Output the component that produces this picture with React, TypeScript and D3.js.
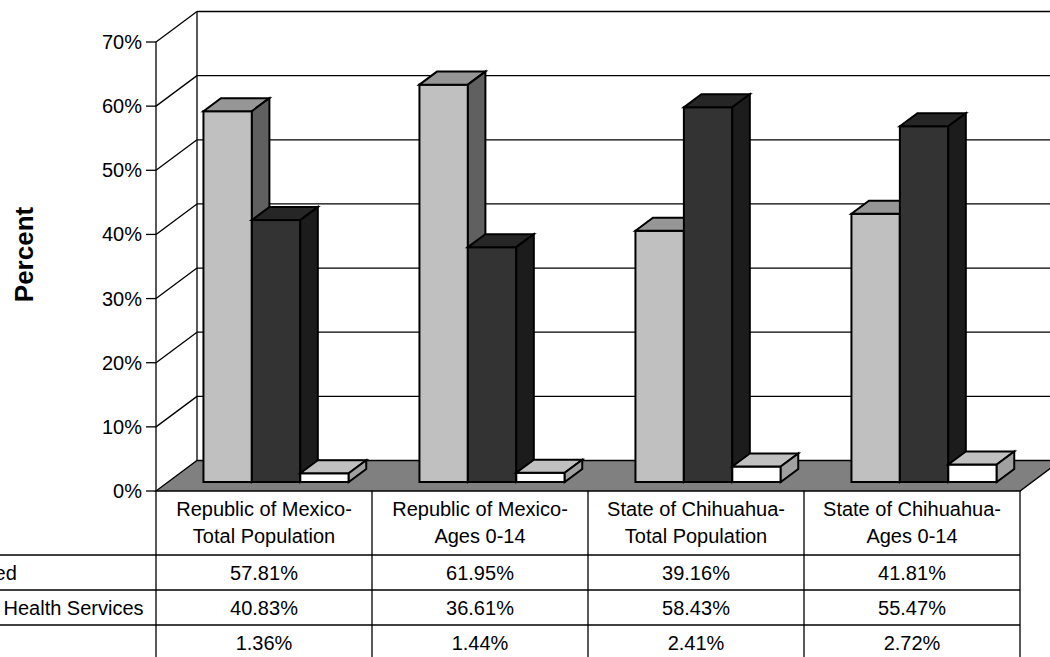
import React from "react";
import * as d3 from "d3";

const categories = [
  ["Republic of Mexico-", "Total Population"],
  ["Republic of Mexico-", "Ages 0-14"],
  ["State of Chihuahua-", "Total Population"],
  ["State of Chihuahua-", "Ages 0-14"],
];
const seriesNames = ["Non-entitled", "Entitled to Health Services", "Unknown"];
const notEntitled = [57.81, 61.95, 39.16, 41.81];
const entitled = [40.83, 36.61, 58.43, 55.47];
const unknown = [1.36, 1.44, 2.41, 2.72];
const seriesValues = [notEntitled, entitled, unknown];
const yTicks = [0, 10, 20, 30, 40, 50, 60, 70];

const W = 1050;
const H = 657;
const FONT = "'Liberation Sans', Arial, sans-serif";

// face colours: front, top, side
const faceColors = [
  ["#c0c0c0", "#969696", "#606060"],
  ["#333333", "#262626", "#1c1c1c"],
  ["#ffffff", "#c0c0c0", "#a0a0a0"],
];

export default function App() {
  const x0 = 156;
  const x1 = 1020;
  const yScale = d3.scaleLinear().domain([0, 70]).range([491, 42]);
  const DX = 41;
  const DY = -30.5;
  const xCat = d3
    .scaleBand<number>()
    .domain(categories.map((_, i) => i))
    .range([x0, x1])
    .padding(0);
  const xSer = d3
    .scaleBand<number>()
    .domain(seriesNames.map((_, i) => i))
    .range([0, xCat.bandwidth()])
    .paddingInner(0)
    .paddingOuter(0.73);
  const f0 = 0.295;
  const f1 = 0.722;

  const pt = (x: number, y: number) => `${x},${y}`;
  const y0 = yScale(0);

  const headerBottom = 555;
  const rowH = 35;

  const bars: React.ReactNode[] = [];
  categories.forEach((_, ci) => {
    seriesValues.forEach((vals, si) => {
      const v = vals[ci];
      const bx = (xCat(ci) as number) + (xSer(si) as number);
      const bw = xSer.bandwidth();
      const fx = bx + f0 * DX;
      const fyb = y0 + f0 * DY;
      const fyt = yScale(v) + f0 * DY;
      const ddx = (f1 - f0) * DX;
      const ddy = (f1 - f0) * DY;
      const [cf, ct, cs] = faceColors[si];
      bars.push(
        <g key={`b${ci}-${si}`} stroke="#000" strokeWidth={2} strokeLinejoin="miter">
          <rect x={fx} y={fyt} width={bw} height={fyb - fyt} fill={cf} />
          <polygon
            points={[pt(fx, fyt), pt(fx + ddx, fyt + ddy), pt(fx + bw + ddx, fyt + ddy), pt(fx + bw, fyt)].join(" ")}
            fill={ct}
          />
          <polygon
            points={[pt(fx + bw, fyt), pt(fx + bw + ddx, fyt + ddy), pt(fx + bw + ddx, fyb + ddy), pt(fx + bw, fyb)].join(" ")}
            fill={cs}
          />
        </g>
      );
    });
  });

  return (
    <svg
      width={W}
      height={H}
      style={{ position: "fixed", left: 0, top: 0, display: "block", background: "#fff" }}
      fontFamily={FONT}
    >
      {yTicks.filter((t) => t > 0).map((t) => (
        <g key={`g${t}`} stroke="#000" strokeWidth={1.3}>
          <line x1={x0 + DX} x2={x1 + DX + 40} y1={yScale(t) + DY} y2={yScale(t) + DY} />
          <line x1={x0} x2={x0 + DX} y1={yScale(t)} y2={yScale(t) + DY} />
        </g>
      ))}
      <line x1={x0 + DX} x2={x0 + DX} y1={yScale(70) + DY} y2={y0 + DY} stroke="#000" strokeWidth={1.3} />
      <polygon
        points={[pt(x0, y0), pt(x0 + DX, y0 + DY), pt(x1 + DX, y0 + DY), pt(x1, y0)].join(" ")}
        fill="#808080"
        stroke="#000"
        strokeWidth={1.3}
      />
      {bars}
      <line x1={x0} x2={x0} y1={yScale(70)} y2={y0} stroke="#000" strokeWidth={1.3} />
      {yTicks.map((t) => (
        <g key={`t${t}`}>
          <line x1={x0 - 10} x2={x0} y1={yScale(t)} y2={yScale(t)} stroke="#000" strokeWidth={1.3} />
          <text x={x0 - 14} y={yScale(t)} dy="0.35em" textAnchor="end" fontSize={20} fill="#000">
            {t}%
          </text>
        </g>
      ))}
      <text
        transform={`translate(33,254.5) rotate(-90)`}
        textAnchor="middle"
        fontSize={26}
        fontWeight="bold"
        fill="#000"
      >
        Percent
      </text>
      <g stroke="#000" strokeWidth={1.3}>
        {[x0, ...categories.map((_, i) => (xCat(i) as number) + xCat.bandwidth())].map((x, i) => (
          <line key={`v${i}`} x1={x} x2={x} y1={y0} y2={H} />
        ))}
        {[0, 1, 2].map((r) => (
          <line key={`h${r}`} x1={0} x2={x1} y1={headerBottom + r * rowH} y2={headerBottom + r * rowH} />
        ))}
      </g>
      {categories.map((lines, ci) => {
        const cx = (xCat(ci) as number) + xCat.bandwidth() / 2;
        return (
          <text key={`c${ci}`} textAnchor="middle" fontSize={20} fill="#000">
            <tspan x={cx} y={516}>{lines[0]}</tspan>
            <tspan x={cx} y={542.5}>{lines[1]}</tspan>
          </text>
        );
      })}
      {seriesValues.map((vals, si) => (
        <g key={`r${si}`}>
          <text x={-91} y={headerBottom + si * rowH + 24.5} fontSize={20} fill="#000">
            {seriesNames[si]}
          </text>
          {vals.map((v, ci) => (
            <text
              key={ci}
              x={(xCat(ci) as number) + xCat.bandwidth() / 2}
              y={headerBottom + si * rowH + 24.5}
              textAnchor="middle"
              fontSize={20}
              fill="#000"
            >
              {v.toFixed(2)}%
            </text>
          ))}
        </g>
      ))}
    </svg>
  );
}
